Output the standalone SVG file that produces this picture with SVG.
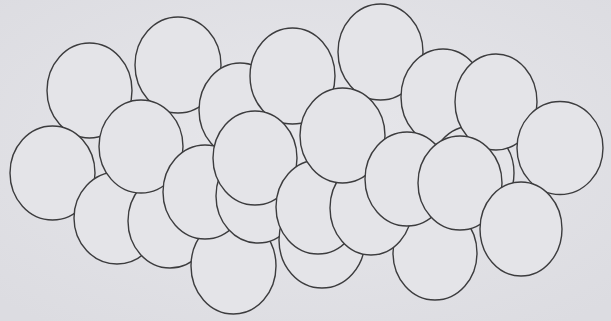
<svg xmlns="http://www.w3.org/2000/svg" width="611" height="321" viewBox="0 0 611 321">
  <defs>
    <radialGradient id="bg" cx="50%" cy="45%" r="70%">
      <stop offset="0" stop-color="#e7e7eb"/>
      <stop offset="1" stop-color="#dcdce1"/>
    </radialGradient>
    <style>
      .c { fill: #e4e4e8; stroke: #3c3c3e; stroke-width: 1.4; }
    </style>
  </defs>
  <rect x="0" y="0" width="611" height="321" fill="url(#bg)"/>
  <g id="circles">
    <ellipse id="cA" class="c" cx="89.5" cy="90.5" rx="42.5" ry="47.5"/>
    <ellipse id="cB" class="c" cx="178" cy="65" rx="43" ry="48"/>
    <ellipse id="cC" class="c" cx="240" cy="110" rx="41" ry="47"/>
    <ellipse id="cD" class="c" cx="292.5" cy="76" rx="42.5" ry="48"/>
    <ellipse id="cE" class="c" cx="380.5" cy="52" rx="42.5" ry="48"/>
    <ellipse id="cF" class="c" cx="443" cy="97" rx="42" ry="48"/>
    <ellipse id="cZ" class="c" cx="472" cy="173" rx="42" ry="47"/>
    <ellipse id="cG" class="c" cx="496" cy="102" rx="41" ry="48"/>
    <ellipse id="cH" class="c" cx="560" cy="148" rx="43" ry="46.5"/>
    <ellipse id="cI" class="c" cx="52.5" cy="173" rx="42.5" ry="47"/>
    <ellipse id="cK" class="c" cx="117" cy="218" rx="43" ry="46"/>
    <ellipse id="cL" class="c" cx="170" cy="221" rx="42" ry="47"/>
    <ellipse id="cJ" class="c" cx="141" cy="146.5" rx="42" ry="46.5"/>
    <ellipse id="cT" class="c" cx="233.5" cy="266" rx="42.5" ry="48"/>
    <ellipse id="cM" class="c" cx="205" cy="192" rx="42" ry="47"/>
    <ellipse id="cO" class="c" cx="258" cy="196" rx="42" ry="47"/>
    <ellipse id="cN" class="c" cx="255" cy="158" rx="42" ry="47"/>
    <ellipse id="cV" class="c" cx="322" cy="240" rx="43" ry="48"/>
    <ellipse id="cU" class="c" cx="318" cy="207" rx="42" ry="47"/>
    <ellipse id="cX" class="c" cx="435" cy="253" rx="42" ry="47"/>
    <ellipse id="cW" class="c" cx="371" cy="208" rx="41" ry="47"/>
    <ellipse id="cP" class="c" cx="342.5" cy="135.5" rx="42.5" ry="47.5"/>
    <ellipse id="cQ" class="c" cx="407" cy="179" rx="42" ry="47"/>
    <ellipse id="cR" class="c" cx="460" cy="183" rx="42" ry="47"/>
    <ellipse id="cS" class="c" cx="521" cy="229" rx="41" ry="47"/>
  </g>
</svg>
